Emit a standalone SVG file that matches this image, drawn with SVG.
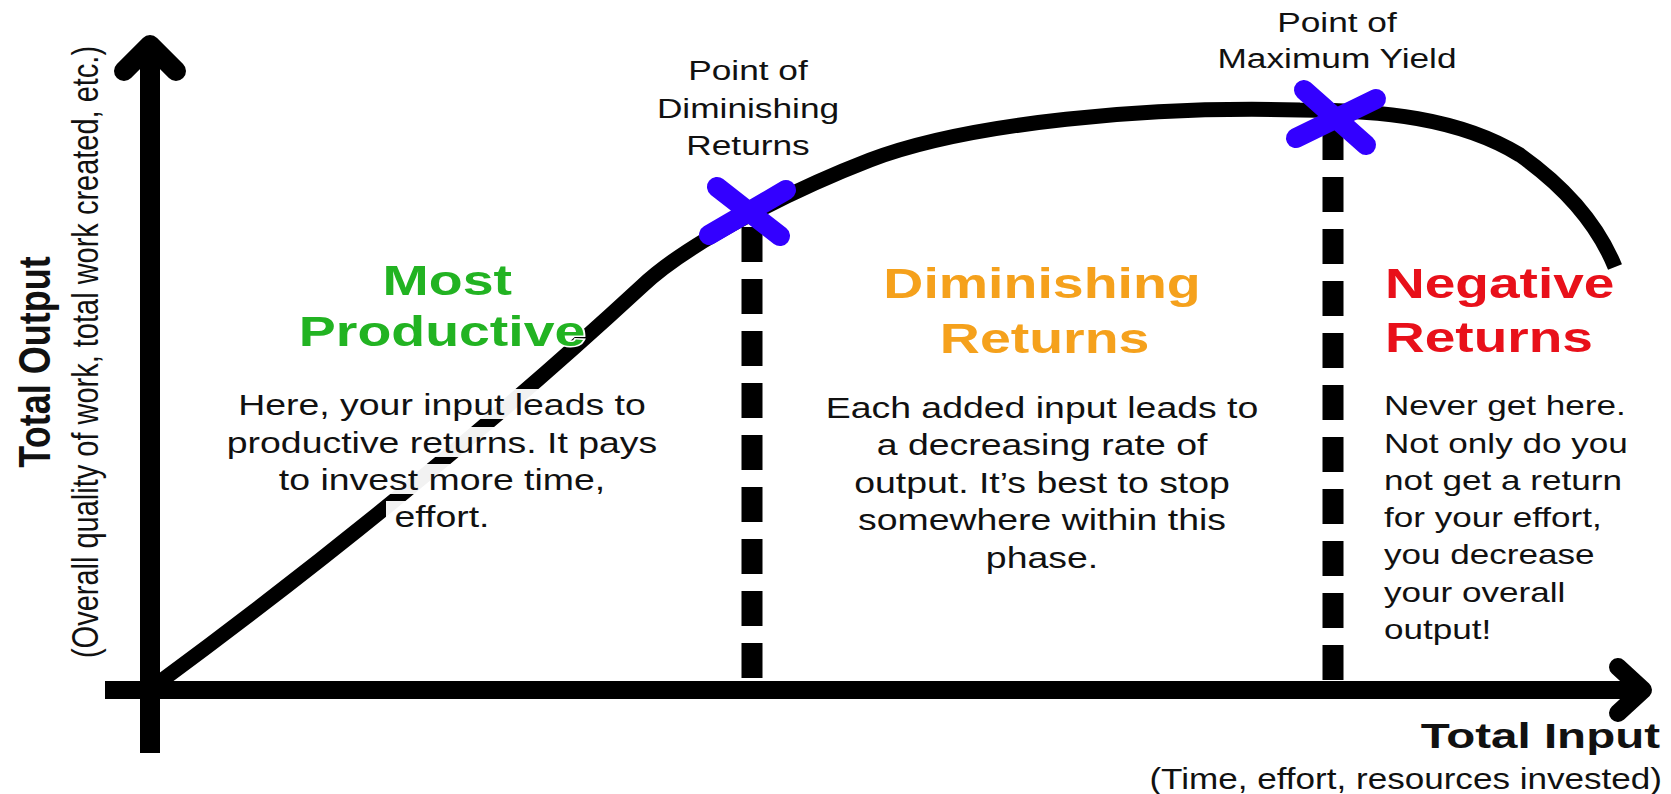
<svg xmlns="http://www.w3.org/2000/svg" width="1671" height="794" viewBox="0 0 1671 794">
<style>
  .t { font-family: "Liberation Sans", Arial, sans-serif; fill: #111; }
  .b { font-weight: bold; }
  .head { font-family: "Liberation Sans", Arial, sans-serif; font-weight: bold; font-size: 43px; stroke: #fff; stroke-width: 3px; paint-order: stroke; }
  .axis { stroke: #000; fill: none; }
  .dash { stroke: #000; stroke-width: 21; stroke-dasharray: 35 17; fill: none; }
  .xmark { stroke: #3300ff; stroke-width: 20; stroke-linecap: round; fill: none; }
  .mask { fill: #fff; opacity: 0.95; }
</style>
<rect width="1671" height="794" fill="#fff"/>

<g id="connectors">
  <path id="curve" d="M157 684 C290 586 470 445 641 287 C690 240 800 187 870 160 C970 122 1150 106 1300 110 C1380 110 1460 118 1520 155 C1565 187 1598 225 1615 267" stroke="#000" stroke-width="15" fill="none" stroke-linecap="butt"/>
  <line class="dash" x1="752" y1="210" x2="752" y2="680" stroke-dashoffset="35"/>
  <line class="dash" x1="1333" y1="115" x2="1333" y2="680" stroke-dashoffset="42"/>
</g>

<g id="axes">
  <line class="axis" x1="150" y1="753" x2="150" y2="48" stroke-width="20"/>
  <path class="axis" d="M124 71 L150 45 L176 71" stroke-width="20" stroke-linecap="round" stroke-linejoin="round"/>
  <line class="axis" x1="105" y1="690" x2="1638" y2="690" stroke-width="18"/>
  <path class="axis" d="M1618 667 L1643 690 L1618 713" stroke-width="18" stroke-linecap="round" stroke-linejoin="round"/>
</g>

<g id="point-diminishing">
  <path class="xmark" d="M717 187 L780 236 M786 190 L709 235"/>
  <g transform="translate(748,0) scale(1.26,1)">
    <text class="t" font-size="28" text-anchor="middle"><tspan x="0" y="80">Point of</tspan><tspan x="0" y="118">Diminishing</tspan><tspan x="0" y="155">Returns</tspan></text>
  </g>
</g>

<g id="point-maximum">
  <path class="xmark" d="M1304 90 L1366 145 M1376 99 L1296 138"/>
  <g transform="translate(1337,0) scale(1.26,1)">
    <text class="t" font-size="28" text-anchor="middle"><tspan x="0" y="32">Point of</tspan><tspan x="0" y="68">Maximum Yield</tspan></text>
  </g>
</g>

<g id="most-productive">
  <rect class="mask" x="234" y="389" width="417" height="30"/>
  <rect class="mask" x="224" y="427" width="435" height="30"/>
  <rect class="mask" x="276" y="464" width="331" height="30"/>
  <rect class="mask" x="386" y="501" width="105" height="31"/>
  <g transform="translate(446,0) scale(1.29,1)">
    <text class="head" fill="#22b322" text-anchor="middle"><tspan x="1" y="295">Most</tspan><tspan x="-3" y="346">Productive</tspan></text>
  </g>
  <g transform="translate(442,0) scale(1.29,1)">
    <text class="t" font-size="29" text-anchor="middle"><tspan x="0" y="415">Here, your input leads to</tspan><tspan x="0" y="453">productive returns. It pays</tspan><tspan x="0" y="490">to invest more time,</tspan><tspan x="0" y="527">effort.</tspan></text>
  </g>
</g>

<g id="diminishing-returns">
  <g transform="translate(1042,0) scale(1.29,1)">
    <text class="head" fill="#f5a11c" text-anchor="middle"><tspan x="0" y="298">Diminishing</tspan><tspan x="2" y="353">Returns</tspan></text>
  </g>
  <g transform="translate(1042,0) scale(1.29,1)">
    <text class="t" font-size="29" text-anchor="middle"><tspan x="0" y="418">Each added input leads to</tspan><tspan x="0" y="455">a decreasing rate of</tspan><tspan x="0" y="493">output. It’s best to stop</tspan><tspan x="0" y="530">somewhere within this</tspan><tspan x="0" y="568">phase.</tspan></text>
  </g>
</g>

<g id="negative-returns">
  <g transform="translate(1385,0) scale(1.28,1)">
    <text class="head" fill="#e8101a"><tspan x="0" y="298">Negative</tspan><tspan x="0" y="352">Returns</tspan></text>
  </g>
  <g transform="translate(1384,0) scale(1.3,1)">
    <text class="t" font-size="27"><tspan x="0" y="415">Never get here.</tspan><tspan x="0" y="453">Not only do you</tspan><tspan x="0" y="490">not get a return</tspan><tspan x="0" y="527">for your effort,</tspan><tspan x="0" y="564">you decrease</tspan><tspan x="0" y="602">your overall</tspan><tspan x="0" y="639">output!</tspan></text>
  </g>
</g>

<g id="x-axis-label">
  <g transform="translate(1660,0) scale(1.32,1)">
    <text class="t b" font-size="36" text-anchor="end" x="0" y="748">Total Input</text>
  </g>
  <g transform="translate(1662,0) scale(1.21,1)">
    <text class="t" font-size="29" text-anchor="end" x="0" y="789">(Time, effort, resources invested)</text>
  </g>
</g>

<g id="y-axis-label">
  <text class="t b" font-size="36" text-anchor="middle" transform="translate(50,362) scale(1.24,1) rotate(-90)" x="0" y="0">Total Output</text>
  <text class="t" font-size="29" text-anchor="middle" transform="translate(98,352) scale(1.26,1) rotate(-90)" x="0" y="0">(Overall quality of work, total work created, etc.)</text>
</g>
</svg>
